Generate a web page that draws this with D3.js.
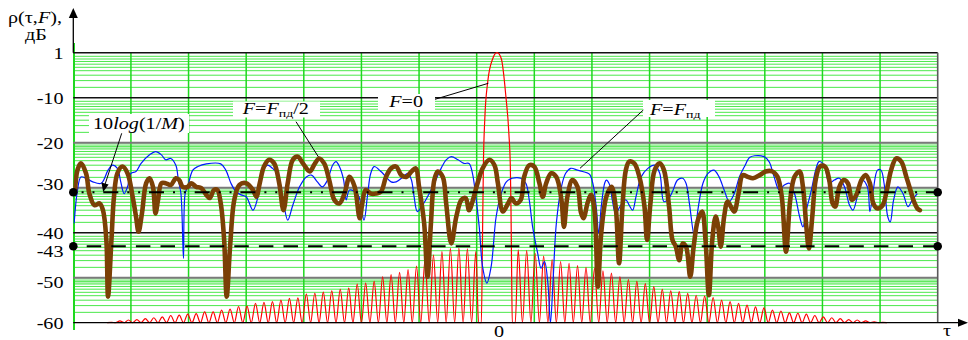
<!DOCTYPE html>
<html><head><meta charset="utf-8">
<script src="https://cdn.jsdelivr.net/npm/d3@7"></script>
<style>
html,body{margin:0;padding:0;background:#fff;}
svg{display:block;}
text{font-family:"Liberation Serif","Times New Roman",serif;font-size:16px;fill:#000;}
</style></head><body>
<svg id="chart" width="968" height="340"></svg>
<script>
// ---------- data ----------
const tauDomain = [-50, 52];
const dbDomain = [-60, 0];
const yTickValues = [0, -10, -20, -30, -40, -43, -50, -60];
const yTickLabels = ["1", "-10", "-20", "-30", "-40", "-43", "-50", "-60"];
const xTickValues = [0];
const xTickLabels = ["0"];
const decadeLevels = [0, -10, -20, -30, -40, -50];
const levelInvM = -31;      // 10log(1/M)
const levelDashed = -43;
const redFloor = -60;

// F = 0 : main lobe
const redMain = [[-1.85,-60],[-1.72,-42],[-1.6,-24],[-1.45,-15],[-1.1,-6.5],[-0.5,-1.3],[0,0],
  [0.5,-1.3],[1.05,-9.8],[1.4,-18],[1.57,-25.3],[1.65,-35],[1.72,-48],[1.8,-60]];
// F = 0 : sidelobe peaks
const redLobeTau = [-45.5,-44.5,-43.5,-42.5,-41.5,-40.5,-39.5,-38.5,-37.5,-36.5,-35.5,-34.5,-33.5,-32.5,-31.5,
  -30.5,-29.5,-28.5,-27.5,-26.5,-25.5,-24.5,-23.5,-22.5,-21.5,-20.5,-19.5,-18.5,-17.5,-16.5,-15.5,-14.5,-13.5,
  -12.5,-11.5,-10.5,-9.5,-8.5,-7.5,-6.5,-5.5,-4.5,-3.5,-2.5,
  2.5,3.5,4.5,5.5,6.5,7.5,8.5,9.5,10.5,11.5,12.5,13.5,14.5,15.5,16.5,17.5,18.5,19.5,20.5,21.5,22.5,23.5,24.5,
  25.5,26.5,27.5,28.5,29.5,30.5,31.5,32.5,33.5,34.5,35.5,36.5,37.5,38.5,39.5,40.5,41.5,42.5,43.5,44.5,45.5];
const redLobeDb = [-59.9,-59.6,-59.4,-59.3,-59.1,-58.9,-58.7,-58.4,-58.3,-58.1,-58.0,-57.6,-57.6,-57.2,-57.0,
  -56.4,-56.3,-55.7,-55.5,-55.3,-55.0,-54.6,-54.5,-53.6,-53.4,-53.2,-52.9,-52.6,-52.3,-51.4,-51.2,-50.8,-49.8,
  -49.3,-48.8,-48.2,-47.4,-46.0,-45.0,-44.2,-43.5,-43.4,-43.6,-44.2,
  -43.8,-44.0,-44.6,-45.2,-46.0,-46.4,-46.8,-47.3,-47.7,-47.9,-48.5,-49.0,-49.8,-50.4,-50.8,-51.3,-52.0,-52.6,
  -52.9,-53.1,-53.5,-53.9,-54.1,-54.4,-55.0,-55.3,-55.7,-56.1,-56.5,-56.7,-57.2,-57.4,-57.8,-57.9,-58.1,-58.4,
  -58.7,-58.9,-59.1,-59.3,-59.4,-59.6,-59.8,-59.9];

// F = Fпд
const blueSeries = [[-49.9,-37.9],[-49.5,-30.5],[-49.1,-27.6],[-48.5,-27.9],[-47.7,-28.7],[-46.7,-29],[-45.9,-26.1],
  [-45.4,-25],[-44.8,-25.7],[-44.4,-28.7],[-44.0,-31.3],[-43.6,-29.8],[-43.2,-26.8],[-42.6,-26.4],[-42.0,-24.6],
  [-41.0,-22.7],[-40.3,-22],[-39.6,-22.7],[-39.1,-23.8],[-38.5,-23.5],[-37.9,-25],[-37.6,-28.3],[-37.3,-31.3],
  [-37.0,-45.7],[-36.8,-31.3],[-36.5,-29.8],[-35.9,-26.1],[-35.3,-25.3],[-34.3,-24.7],[-32.6,-24.7],[-32.0,-26.1],
  [-31.4,-29],[-30.8,-30.9],[-30.2,-31.6],[-29.6,-32],[-28.8,-35],[-28.2,-32],[-27.7,-26.8],[-27.1,-25],
  [-26.5,-25.7],[-25.9,-26.8],[-25.3,-32],[-24.7,-37.2],[-24.1,-33.9],[-23.3,-29.8],[-22.5,-27.6],[-21.9,-27.2],
  [-21.2,-28.7],[-20.6,-29.8],[-20.0,-28.3],[-19.4,-25],[-19.0,-24.2],[-18.6,-25.3],[-18.1,-28.3],[-17.8,-32.7],
  [-17.4,-30.5],[-16.4,-31.6],[-15.7,-37.2],[-15.3,-32],[-14.9,-26.8],[-14.5,-25.3],[-13.7,-26.4],[-13.1,-27.6],
  [-12.5,-28.7],[-11.9,-28.7],[-11.1,-27.6],[-10.5,-26.8],[-10.1,-28.3],[-9.8,-31.8],[-9.4,-35.3],[-8.8,-33.9],
  [-8.2,-32],[-7.4,-29],[-6.6,-25.7],[-6.0,-23.8],[-5.4,-23.1],[-4.6,-23.8],[-3.9,-24.6],[-3.3,-24.6],[-2.9,-26.8],
  [-2.5,-32],[-2.1,-38.7],[-1.7,-47.6],[-1.2,-51.2],[-0.7,-47.6],[-0.1,-36.4],[0.5,-31.3],[1.1,-28.7],[1.8,-27.9],
  [2.8,-27.9],[3.4,-29],[3.8,-32.7],[4.2,-38.7],[4.8,-44.6],[5.2,-47.9],[5.6,-46.4],[6.0,-51.2],[6.3,-60],
  [6.6,-51.2],[7.0,-37.9],[7.6,-29.8],[8.1,-26.8],[8.7,-25.7],[9.5,-26.1],[10.1,-26.4],[10.9,-27],[11.3,-29],
  [11.7,-34.2],[12.0,-40.1],[12.3,-34.2],[12.7,-29],[12.9,-28.3],[13.3,-29.4],[13.6,-32.7],[14.0,-35.7],
  [14.6,-33.9],[15.2,-32.7],[15.6,-33.9],[16.0,-35],[16.4,-32],[17.0,-27.6],[17.8,-25.7],[18.6,-25],[19.2,-26.8],
  [19.7,-33.1],[20.3,-32.3],[20.7,-30.9],[21.3,-28.3],[21.9,-27.9],[22.3,-29],[22.7,-33.5],[23.3,-40.9],
  [23.7,-35],[24.3,-29],[24.9,-26.8],[25.6,-26.1],[26.2,-27.6],[26.8,-30.5],[27.4,-33.1],[28.0,-31.3],
  [28.6,-27.6],[29.2,-25.3],[29.8,-23.3],[30.4,-22.9],[31.5,-23.1],[32.1,-24.2],[32.7,-27.6],[33.3,-30.5],
  [33.9,-29.4],[34.5,-29],[35.1,-31.3],[35.7,-36.4],[36.1,-38.7],[36.5,-35],[37.1,-30.5],[37.6,-26.1],[38.0,-24.2],
  [38.6,-25],[39.2,-29],[39.8,-28.3],[40.4,-27.9],[41.0,-29.8],[41.6,-33.9],[42.0,-35],[42.6,-31.3],[43.1,-28.3],
  [43.7,-29.8],[44.0,-35.3],[44.4,-30.5],[44.9,-26.1],[45.3,-26.1],[45.7,-29.4],[46.1,-36.4],[46.4,-37.6],
  [46.8,-32.7],[47.3,-29.8],[47.9,-31.3],[48.5,-34.2],[49.0,-32.7],[49.6,-31.3]];

// F = Fпд/2
const brownSeries = [[-49.8,-31],[-49.5,-26],[-49.1,-24.6],[-48.5,-26.8],[-48.1,-31.3],[-47.5,-33.9],[-46.9,-33.5],
  [-46.5,-35],[-46.1,-41.6],[-45.9,-54.2],[-45.5,-41.6],[-45.2,-32],[-44.8,-26.8],[-44.2,-25.3],[-43.6,-26.8],
  [-43.0,-32],[-42.6,-36.4],[-42.3,-39.8],[-41.9,-35.7],[-41.4,-29],[-41.0,-27.9],[-40.6,-29.8],[-40.3,-35.7],
  [-40.0,-32.7],[-39.6,-29],[-39.1,-29],[-38.5,-29.4],[-37.9,-27.9],[-37.5,-28.3],[-37.1,-29.8],[-36.5,-29.8],
  [-36.1,-29],[-35.5,-29.8],[-34.9,-30.1],[-34.3,-31.6],[-33.9,-32.3],[-33.4,-30.5],[-33.0,-30.5],[-32.6,-33.5],
  [-32.2,-41.6],[-31.9,-54.2],[-31.5,-43.1],[-31.0,-32.7],[-30.4,-29.4],[-29.6,-29],[-28.8,-30.5],[-28.4,-32],
  [-28.0,-29],[-27.5,-25.3],[-26.9,-23.8],[-26.3,-24.6],[-25.7,-29],[-25.2,-35],[-24.7,-29],[-24.1,-23.8],
  [-23.5,-23.1],[-22.9,-24.6],[-22.1,-26.4],[-21.6,-25],[-21.0,-23.5],[-20.4,-24.6],[-19.8,-28.3],[-19.2,-32.7],
  [-18.6,-33.5],[-18.0,-31.3],[-17.4,-27.6],[-16.8,-29.8],[-16.2,-36.8],[-15.9,-33.5],[-15.5,-30.5],[-14.9,-31.3],
  [-14.3,-31.3],[-13.7,-30.9],[-13.1,-27.6],[-12.5,-25.7],[-11.9,-25.3],[-11.3,-27.2],[-10.7,-27.6],[-10.1,-26.4],
  [-9.6,-25.7],[-9.2,-29.8],[-8.6,-37.9],[-8.2,-49.8],[-7.8,-37.9],[-7.4,-28.3],[-7.0,-26.4],[-6.4,-27.6],
  [-6.0,-33.5],[-5.4,-42.4],[-4.8,-36.4],[-4.2,-32.7],[-3.7,-32.3],[-3.3,-35],[-2.9,-33.1],[-2.3,-29],
  [-1.7,-25.7],[-0.9,-23.8],[-0.3,-25],[0.1,-29],[0.7,-35.3],[1.3,-33.5],[1.7,-32.3],[2.2,-33.5],[2.8,-32.7],
  [3.2,-27.6],[3.8,-25],[4.4,-25.3],[5.0,-29],[5.4,-32],[5.8,-29],[6.4,-26.8],[7.0,-27.6],[7.6,-32.7],[7.9,-38.7],
  [8.3,-32],[8.9,-28.3],[9.5,-29.8],[9.9,-35.5],[10.2,-36.8],[10.7,-33.3],[11.1,-31.6],[11.5,-35],[11.9,-52],
  [12.3,-40],[12.9,-32],[13.5,-29.8],[14.0,-34.2],[14.4,-46.8],[14.8,-34.2],[15.2,-26.1],[15.6,-24.2],[16.2,-24.6],
  [16.8,-27.6],[17.4,-34.2],[17.7,-41.6],[18.1,-33.5],[18.6,-26.1],[19.2,-24.6],[19.7,-26.1],[20.3,-34.2],
  [20.7,-41.6],[21.1,-43.1],[21.5,-46.1],[21.9,-42.4],[22.3,-43.1],[22.8,-49.8],[23.2,-43.1],[23.7,-37.2],
  [24.2,-35.3],[24.6,-41.6],[25.0,-53.9],[25.4,-41.6],[25.8,-36.4],[26.1,-38.7],[26.4,-43.1],[26.8,-36.4],
  [27.2,-33.1],[27.6,-34.2],[28.0,-35.3],[28.5,-31.3],[29.0,-27.2],[29.6,-27.6],[30.2,-27.9],[31.0,-27.2],
  [31.7,-26.4],[32.5,-26.4],[33.1,-27.6],[33.6,-32],[34.1,-44.2],[34.6,-32.7],[35.1,-27.6],[35.7,-26.4],
  [36.1,-29.8],[36.5,-38.7],[36.8,-43.5],[37.2,-36.4],[37.6,-28.3],[38.1,-25.3],[38.7,-25.3],[39.2,-28.3],
  [39.6,-33.5],[39.9,-34.2],[40.4,-29.8],[40.9,-28.3],[41.4,-29],[41.9,-32.7],[42.4,-31.6],[43.0,-28.3],
  [43.5,-27.2],[44.0,-29],[44.4,-33.5],[44.9,-34.6],[45.5,-33.9],[46.0,-30.5],[46.5,-26.1],[47.1,-23.5],
  [47.7,-24.2],[48.3,-27.6],[48.9,-31.3],[49.2,-33.1],[49.6,-34.6],[49.9,-35]];

// ---------- layout ----------
const L = 73.3, R = 937.7, T = 52.7, B = 322.7;
const TXT_SX = 1.26;           // horizontal stretch of the lettering
const svg = d3.select("#chart");
const x = d3.scaleLinear().domain(tauDomain).range([L, R]);
const y = d3.scaleLinear().domain(dbDomain).range([B, T]);
const gridX = d3.scaleLinear().domain([0, 15]).range([L, R]);

svg.append("defs").append("clipPath").attr("id", "plot")
  .append("rect").attr("x", L).attr("y", T - 2).attr("width", R - L).attr("height", B - T + 3);

// minor horizontal lines below every decade line (dB offsets)
const minorOffsets = [0.8, 1.4, 1.95, 2.55, 3.25, 4.0, 5.0, 6.2, 7.7];
const grayDecades = [-20, -30, -50];
const gGrid = svg.append("g");
gGrid.selectAll("rect.band").data(grayDecades).join("rect")
  .attr("x", L).attr("width", R - L)
  .attr("y", d => y(d)).attr("height", 6)
  .attr("fill", "#b4f2b4");
const minorLevels = decadeLevels.flatMap(d => minorOffsets.map(o => d - o)).filter(v => v > -60);
gGrid.selectAll("line.minor").data(minorLevels).join("line")
  .attr("x1", L).attr("x2", R).attr("y1", d => y(d)).attr("y2", d => y(d))
  .attr("stroke", "#4be84b").attr("stroke-width", 1);
// vertical grid
gGrid.selectAll("line.v").data(d3.range(1, 15)).join("line")
  .attr("x1", d => gridX(d)).attr("x2", d => gridX(d)).attr("y1", T).attr("y2", B)
  .attr("stroke", "#1fd81f").attr("stroke-width", 1.5);
// left boundary (green, extends past the frame)
gGrid.append("line").attr("x1", L + 0.7).attr("x2", L + 0.7).attr("y1", 43).attr("y2", 330)
  .attr("stroke", "#1fd81f").attr("stroke-width", 2);
// decade lines
gGrid.selectAll("line.major").data(decadeLevels).join("line")
  .attr("x1", L).attr("x2", R).attr("y1", d => y(d)).attr("y2", d => y(d))
  .attr("stroke", d => grayDecades.includes(d) ? "#7a7a7a" : "#111")
  .attr("stroke-width", d => grayDecades.includes(d) ? 2 : 1.4);
// right boundary
gGrid.append("line").attr("x1", R).attr("x2", R).attr("y1", T).attr("y2", B)
  .attr("stroke", "#5a5a5a").attr("stroke-width", 1.6);

// ---------- label boxes ----------
const boxes = [[89, 114, 100, 19], [233, 101.5, 87, 16], [378, 94, 57, 16], [643, 100, 72, 17]];
svg.append("g").selectAll("rect").data(boxes).join("rect")
  .attr("x", d => d[0]).attr("y", d => d[1]).attr("width", d => d[2]).attr("height", d => d[3])
  .attr("fill", "#fff");

// ---------- curves ----------
const plot = svg.append("g").attr("clip-path", "url(#plot)");
const line = d3.line().x(d => x(d[0])).y(d => y(d[1]));

// F = 0: sidelobes resting on the floor between peaks
const lobes = redLobeTau.map((t, i) => [t, redLobeDb[i]]);
const leftL = lobes.filter(p => p[0] < 0), rightL = lobes.filter(p => p[0] > 0);
function withNulls(pk) {
  const out = [];
  pk.forEach((p, i) => { if (i > 0) out.push([(pk[i - 1][0] + p[0]) / 2, redFloor]); out.push(p); });
  return out;
}
const redPts = [
  [leftL[0][0] - 0.5, redFloor], ...withNulls(leftL),
  [(leftL[leftL.length - 1][0] + redMain[0][0]) / 2, redFloor], ...redMain,
  [(redMain[redMain.length - 1][0] + rightL[0][0]) / 2, redFloor], ...withNulls(rightL),
  [rightL[rightL.length - 1][0] + 0.5, redFloor]
];
plot.append("path").attr("d", line.curve(d3.curveMonotoneX)(redPts))
  .attr("fill", "none").attr("stroke", "#ff0000").attr("stroke-width", 1.2);

plot.append("path").attr("d", d3.line().x(d => x(d[0])).y(d => y(d[1])).curve(d3.curveCatmullRom.alpha(0.5))(blueSeries))
  .attr("fill", "none").attr("stroke", "#0018ff").attr("stroke-width", 1.2);

plot.append("path").attr("d", d3.line().x(d => x(d[0])).y(d => y(d[1])).curve(d3.curveCatmullRom.alpha(0.5))(brownSeries))
  .attr("fill", "none").attr("stroke", "#7b4006").attr("stroke-width", 4.6)
  .attr("stroke-linejoin", "round").attr("stroke-linecap", "round");

// reference levels
svg.append("line").attr("x1", L).attr("x2", R).attr("y1", y(levelInvM)).attr("y2", y(levelInvM))
  .attr("stroke", "#000").attr("stroke-width", 2)
  .attr("stroke-dasharray", "15,9,2,8.85,2,8.85").attr("stroke-dashoffset", 15.7);
svg.append("line").attr("x1", L).attr("x2", R).attr("y1", y(levelDashed)).attr("y2", y(levelDashed))
  .attr("stroke", "#000").attr("stroke-width", 2)
  .attr("stroke-dasharray", "14.5,10.1").attr("stroke-dashoffset", 24.6 - 13.4);
const dots = [levelInvM, levelDashed].flatMap(v => [[tauDomain[0], v], [tauDomain[1], v]]);
svg.selectAll("circle.lvl").data(dots).join("circle")
  .attr("cx", d => x(d[0])).attr("cy", d => y(d[1])).attr("r", 4.3).attr("fill", "#000");

// ---------- axes ----------
svg.append("line").attr("x1", L).attr("x2", 962).attr("y1", B).attr("y2", B)
  .attr("stroke", "#000").attr("stroke-width", 1.3);
svg.append("path").attr("d", `M968,${B} L958,${B - 4} L958,${B + 4} Z`).attr("fill", "#000");
svg.append("line").attr("x1", L).attr("x2", L).attr("y1", T).attr("y2", 14)
  .attr("stroke", "#000").attr("stroke-width", 1.3);
svg.append("path").attr("d", `M${L},8 L${L - 4.5},18 L${L + 4.5},18 Z`).attr("fill", "#000");
// red floor drawn over the axis line
plot.append("path").attr("d", line.curve(d3.curveLinear)([[leftL[0][0] - 0.5, redFloor], [rightL[rightL.length - 1][0] + 0.5, redFloor]]))
  .attr("stroke", "#a00000").attr("stroke-width", 1).attr("fill", "none");

// ---------- text ----------
function label(px, py, parts, anchor) {
  const g = svg.append("g").attr("transform", `translate(${px},${py}) scale(${TXT_SX},1)`);
  const t = g.append("text").attr("text-anchor", anchor || "start");
  let shift = 0;
  parts.forEach(p => {
    const [s, st] = p;
    const ts = t.append("tspan").text(s);
    if (st && st.includes("i")) ts.attr("font-style", "italic");
    if (st && st.includes("s")) { ts.attr("font-size", 11).attr("dy", 3 - shift); shift = 3; }
    else if (shift) { ts.attr("dy", -shift); shift = 0; }
  });
  return t;
}
const tickNudge = {"-30": -3, "-43": 5, "-50": 5};
yTickValues.forEach((v, i) => {
  label(63.5, y(v) + 5.5 + (tickNudge[String(v)] || 0.8), [[yTickLabels[i]]], "end");
});
xTickValues.forEach((v, i) => label(x(v) + 2, 336.5, [[xTickLabels[i]]], "middle"));
label(947, 335.5, [["τ"]], "middle");
label(8, 23, [["ρ(τ,"], ["F", "i"], ["),"]]);
label(25, 40, [["дБ"]]);
label(93, 129, [["10"], ["log", "i"], ["(1/"], ["M", "i"], [")"]]);
label(242.7, 114.3, [["F", "i"], ["="], ["F", "i"], ["пд", "s"], ["/2"]]);
label(389.3, 106.7, [["F", "i"], ["=0"]]);
label(650, 114.5, [["F", "i"], ["="], ["F", "i"], ["пд", "s"]]);

// leaders
const leaders = [[435, 99.3, 488.3, 83.3], [296, 121.7, 318.3, 156.7], [643.3, 110, 580, 168.3], [121.7, 133.3, 104.5, 186]];
svg.selectAll("line.lead").data(leaders).join("line")
  .attr("x1", d => d[0]).attr("y1", d => d[1]).attr("x2", d => d[2]).attr("y2", d => d[3])
  .attr("stroke", "#000").attr("stroke-width", 1);
// arrowhead of the 10log(1/M) pointer
svg.append("path").attr("d", "M103.2,192 L101.4,182.6 L108.6,184.6 Z").attr("fill", "#000");
</script>
</body></html>
